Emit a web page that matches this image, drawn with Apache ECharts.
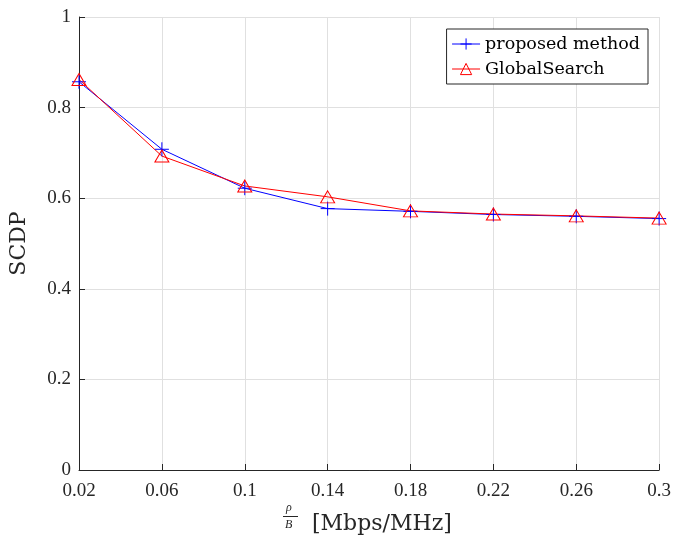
<!DOCTYPE html>
<html><head><meta charset="utf-8">
<script src="https://cdn.jsdelivr.net/npm/echarts@6/dist/echarts.min.js"></script>
<style>html,body{margin:0;padding:0;background:#fff}#c{width:674px;height:539px}</style>
</head><body><div id="c"></div>
<script>
const categories = ['0.02','0.06','0.1','0.14','0.18','0.22','0.26','0.3'];
const proposed = [0.857, 0.708, 0.622, 0.577, 0.571, 0.564, 0.560, 0.555];
const globalSearch = [0.862, 0.693, 0.627, 0.603, 0.572, 0.565, 0.561, 0.556];
const seriesNames = ['proposed method', 'GlobalSearch'];
const FONT = 'Liberation Serif';
const FONT2 = 'DejaVu Serif';
const chart = echarts.init(document.getElementById('c'), null, {renderer:'canvas'});
chart.setOption({
  animation: false,
  backgroundColor: '#fff',
  grid: {left: 78, right: 14, top: 17, bottom: 69},
  xAxis: {
    type: 'category', data: categories, boundaryGap: false,
    axisLine: {lineStyle: {color: '#262626', width: 1}},
    axisTick: {inside: true, length: 6, lineStyle: {color: '#262626'}},
    axisLabel: {color: '#262626', fontFamily: FONT, fontSize: 19, margin: 12},
    splitLine: {show: true, lineStyle: {color: '#e0e0e0', width: 1}}
  },
  yAxis: {
    type: 'value', min: 0, max: 1, interval: 0.2,
    name: 'SCDP', nameLocation: 'middle', nameGap: 49, nameRotate: 90,
    nameTextStyle: {color: '#262626', fontFamily: FONT2, fontSize: 22},
    axisLine: {show: true, lineStyle: {color: '#262626', width: 1}},
    axisTick: {show: true, inside: true, length: 6, lineStyle: {color: '#262626'}},
    axisLabel: {color: '#262626', fontFamily: FONT, fontSize: 19, margin: 8,
      formatter: v => String(Math.round(v*10)/10)},
    splitLine: {show: true, lineStyle: {color: '#e0e0e0', width: 1}}
  },
  legend: {
    right: 26, top: 29, orient: 'vertical',
    backgroundColor: '#fff', borderColor: '#262626', borderWidth: 1, borderRadius: 0,
    padding: [5, 8, 5, 5], itemGap: 5, itemWidth: 28, itemHeight: 14,
    itemStyle: {borderWidth: 1},
    lineStyle: {width: 1},
    textStyle: {color: '#000', fontFamily: FONT2, fontSize: 17.5, lineHeight: 20},
    data: seriesNames
  },
  series: [
    {
      name: seriesNames[0], type: 'line', data: proposed,
      symbol: 'path://M0,-1L0,1M-1,0L1,0', symbolSize: 14,
      lineStyle: {color: '#0000ff', width: 1},
      itemStyle: {color: '#0000ff', borderColor: '#0000ff', borderWidth: 1}
    },
    {
      name: seriesNames[1], type: 'line', data: globalSearch,
      symbol: 'path://M0,-10L11,9L-11,9Z', symbolSize: [14, 12],
      lineStyle: {color: '#ff0000', width: 1},
      itemStyle: {color: 'rgba(255,0,0,0)', borderColor: '#ff0000', borderWidth: 1}
    }
  ],
  graphic: [
    {type: 'text', left: 286, top: 502, style: {text: 'ρ', font: 'italic 12px ' + FONT, fill: '#262626'}},
    {type: 'line', shape: {x1: 283, y1: 516.5, x2: 298, y2: 516.5}, style: {stroke: '#262626', lineWidth: 1}},
    {type: 'text', left: 285, top: 519, style: {text: 'B', font: 'italic 12px ' + FONT, fill: '#262626'}},
    {type: 'text', left: 312, top: 513, style: {text: '[Mbps/MHz]', font: '22px ' + FONT2, fill: '#262626'}}
  ]
});
</script></body></html>
